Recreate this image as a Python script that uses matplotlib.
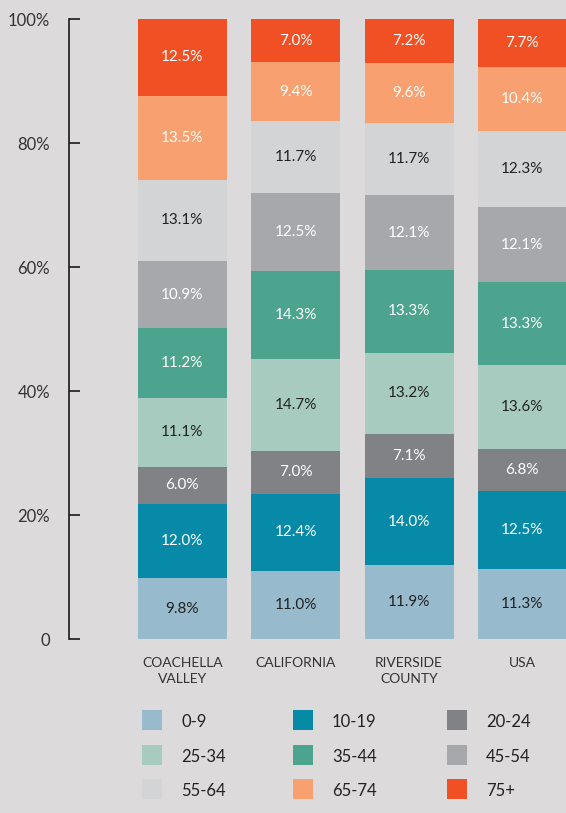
import matplotlib
matplotlib.use("Agg")
import matplotlib.pyplot as plt
from matplotlib.patches import Rectangle

plt.rcParams["font.family"] = ["Lato", "DejaVu Sans"]

# ── data ─────────────────────────────────────────────────────────────────────
REGIONS = ["COACHELLA\nVALLEY", "CALIFORNIA", "RIVERSIDE\nCOUNTY", "USA"]
AGE_GROUPS = ["0-9", "10-19", "20-24", "25-34", "35-44", "45-54", "55-64", "65-74", "75+"]

coachella_valley = [9.8, 12.0, 6.0, 11.1, 11.2, 10.9, 13.1, 13.5, 12.5]
california       = [11.0, 12.4, 7.0, 14.7, 14.3, 12.5, 11.7, 9.4, 7.0]
riverside_county = [11.9, 14.0, 7.1, 13.2, 13.3, 12.1, 11.7, 9.6, 7.2]
usa              = [11.3, 12.5, 6.8, 13.6, 13.3, 12.1, 12.3, 10.4, 7.7]

Y_TICKS = [0, 20, 40, 60, 80, 100]
Y_TICK_LABELS = ["0", "20%", "40%", "60%", "80%", "100%"]

# ── style ────────────────────────────────────────────────────────────────────
BG = "#dcdadb"
TEXT = "#222222"
COLORS = ["#97bacd", "#0789a8", "#808285", "#a7cbbf", "#4ca38e",
          "#a7a8ab", "#d3d4d6", "#f9a070", "#f05023"]
LABEL_COLORS = [TEXT, "white", "white", TEXT, "white", "white", TEXT, "white", "white"]

W, H = 566, 813
fig = plt.figure(figsize=(W / 100, H / 100), dpi=100, facecolor=BG)
ax = fig.add_axes([69 / W, (H - 639) / H, (W - 69) / W, (639 - 19) / H])
ax.set_facecolor(BG)

series = [coachella_valley, california, riverside_county, usa]
x = list(range(len(REGIONS)))
bar_w = 0.785

for i, grp in enumerate(AGE_GROUPS):
    vals = [s[i] for s in series]
    bottoms = [sum(s[:i]) for s in series]
    ax.bar(x, vals, bottom=bottoms, width=bar_w, color=COLORS[i], linewidth=0)
    for xi, v, b in zip(x, vals, bottoms):
        ax.text(xi, b + v / 2, f"{v:.1f}%", ha="center", va="center",
                fontsize=11, color=LABEL_COLORS[i])

ax.set_xlim(-1.0, 3.385)
ax.set_ylim(0, 100)

for side in ["top", "right", "bottom"]:
    ax.spines[side].set_visible(False)
ax.spines["left"].set_color("#1a1a1a")
ax.spines["left"].set_linewidth(1.2)

ax.set_yticks(Y_TICKS)
ax.set_yticklabels(Y_TICK_LABELS)
ax.tick_params(axis="y", direction="in", length=8, width=1.2, color="#1a1a1a",
               pad=13.5, labelsize=12, labelcolor="#333333")

ax.set_xticks(x)
ax.set_xticklabels(REGIONS, linespacing=1.35)
ax.tick_params(axis="x", length=0, pad=13, labelsize=10, labelcolor="#333333")

# ── legend (3 x 3 grid, row-wise) ────────────────────────────────────────────
col_x = [142, 293, 447]
row_y = [710, 745, 779]
for k, grp in enumerate(AGE_GROUPS):
    r, c = divmod(k, 3)
    x0, y0 = col_x[c], row_y[r]
    fig.patches.append(Rectangle((x0 / W, (H - y0 - 20) / H), 20 / W, 20 / H,
                                 transform=fig.transFigure, color=COLORS[k], lw=0))
    fig.text((x0 + 39) / W, (H - y0 - 12) / H, grp, ha="left", va="center",
             fontsize=12, color=TEXT)

fig.savefig("out.png", dpi=100, facecolor=BG)
